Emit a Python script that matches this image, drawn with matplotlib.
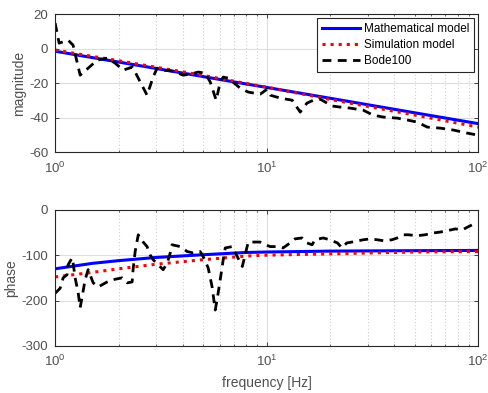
import matplotlib
matplotlib.use("Agg")
import matplotlib.pyplot as plt
import numpy as np
from matplotlib.ticker import LogLocator, NullFormatter

plt.rcParams['font.family'] = ['Liberation Sans', 'DejaVu Sans']
plt.rcParams['axes.unicode_minus'] = False

# ---- model curves ----
f_model = [1, 1.5, 2, 3, 5, 8, 10, 20, 50, 100]
mag_math = [-1.5, -5.2, -7.8, -11.5, -16.2, -20.5, -22.5, -28.8, -37.2, -43.5]
mag_sim = [-0.8, -4.5, -7.0, -10.8, -15.5, -20.2, -22.3, -29.5, -38.5, -45.5]
ph_math = [-130, -118, -112, -105, -99, -94, -93, -91, -90, -89.5]
ph_sim = [-148, -138, -130, -120, -110, -102, -100, -97, -93, -92]

# ---- Bode100 measurement (magnitude) ----
f_meas_mag = [1.0, 1.044, 1.152, 1.216, 1.313, 1.58, 1.762, 1.921, 2.097, 2.312,
              2.389, 2.72, 2.905, 3.035, 3.24, 3.61, 4.03, 4.35, 4.74, 5.12,
              5.41, 5.77, 6.03, 6.23, 6.58, 7.49, 8.18, 9.31, 10.05, 10.4,
              11.6, 13.2, 14.4, 15.5, 16.6, 17.9, 19.3, 20.4, 22.3, 24.8,
              28.6, 31.9, 35.6, 41.4, 46.2, 51.5, 57.4, 66.1, 76.2, 88.8, 98.9]
mag_meas = [14.8, 3.2, 4.9, 2.0, -15.4, -6.7, -5.5, -8.4, -12.5, -10.7,
            -13.6, -27.0, -16.5, -11.3, -12.5, -13.0, -15.4, -14.8, -13.6, -14.2,
            -19.4, -29.9, -19.4, -16.5, -17.1, -22.9, -25.2, -26.4, -23.5, -27.0,
            -28.7, -29.9, -36.8, -31.6, -29.9, -29.3, -31.6, -33.3, -33.9, -34.5,
            -35.7, -38.6, -39.7, -40.3, -41.4, -42.6, -45.5, -46.1, -47.2, -49.0, -50.1]

# ---- Bode100 measurement (phase) ----
f_meas_ph = [1.0, 1.056, 1.091, 1.139, 1.152, 1.203, 1.216, 1.243, 1.285, 1.313,
             1.341, 1.386, 1.432, 1.513, 1.597, 1.762, 1.881, 2.073, 2.192, 2.312,
             2.336, 2.389, 2.471, 2.606, 2.72, 2.81, 2.905, 3.07, 3.24, 3.39,
             3.50, 3.57, 3.90, 4.21, 4.49, 4.85, 5.01, 5.29, 5.52, 5.71,
             5.83, 6.03, 6.23, 6.37, 6.87, 7.26, 7.67, 7.91, 8.18, 8.54,
             9.31, 9.84, 10.4, 11.3, 11.95, 12.9, 13.6, 14.7, 15.5, 16.4,
             16.9, 18.5, 19.9, 21.6, 22.7, 23.9, 25.3, 28.6, 30.9, 33.3,
             35.6, 39.1, 41.4, 44.4, 46.7, 51.5, 56.1, 61.2, 66.1, 71.3,
             77.9, 84.2, 89.9, 93.6]
ph_meas = [-184, -173, -150, -143, -121, -106, -117, -150, -183, -216,
           -192, -154, -132, -161, -170, -159, -154, -150, -161, -159,
           -132, -92, -55, -71, -81, -99, -110, -121, -132, -117,
           -95, -77, -81, -92, -95, -92, -103, -128, -170, -221,
           -198, -154, -110, -84, -81, -103, -125, -99, -71, -71,
           -71, -77, -81, -81, -84, -73, -64, -62, -73, -77,
           -66, -62, -66, -73, -84, -73, -71, -66, -64, -66,
           -68, -66, -62, -55, -55, -57, -55, -51, -49, -46,
           -42, -44, -37, -33]

labels = ["Mathematical model", "Simulation model", "Bode100"]

fig = plt.figure(figsize=(4.88, 3.93), dpi=100)
ax1 = fig.add_axes([0.113, 0.613, 0.867, 0.351])
ax2 = fig.add_axes([0.113, 0.120, 0.867, 0.346])

axcol = '#262626'
txtcol = '#505050'

def style(ax):
    ax.set_xscale('log')
    ax.set_xlim(1, 100)
    ax.grid(True, which='major', color='#dedede', linestyle='-', linewidth=0.8)
    ax.grid(True, which='minor', axis='x', color='#cfcfcf', linestyle=(0, (1, 2)), linewidth=0.8)
    ax.set_axisbelow(True)
    ax.xaxis.set_minor_locator(LogLocator(base=10, subs=np.arange(2, 10)))
    ax.xaxis.set_minor_formatter(NullFormatter())
    ax.tick_params(which='both', direction='in', top=True, right=True,
                   labelsize=9.5, colors=axcol, labelcolor=txtcol)
    ax.tick_params(which='major', length=3, width=0.6)
    ax.tick_params(which='minor', length=1.5, width=0.5)
    ax.tick_params(axis='x', pad=6)
    ax.tick_params(axis='y', pad=5)
    for s in ax.spines.values():
        s.set_color(axcol)
        s.set_linewidth(0.8)

ax1.plot(f_model, mag_math, color='#0000ff', lw=2.2, label=labels[0])
ax1.plot(f_model, mag_sim, color='#ff0000', lw=2.2, linestyle=':', label=labels[1])
ax1.plot(f_meas_mag, mag_meas, color='black', lw=2.0, linestyle=(0, (3.2, 2.3)), label=labels[2])
style(ax1)
ax1.set_ylim(-60, 20)
ax1.set_yticks([-60, -40, -20, 0, 20])
ax1.set_ylabel('magnitude', fontsize=10, color=txtcol, labelpad=2)
leg = ax1.legend(loc='upper right', fontsize=8.5, frameon=True, fancybox=False,
                 edgecolor='#262626', framealpha=1, handlelength=3.3,
                 borderaxespad=0.35, labelspacing=0.35, handletextpad=0.3,
                 borderpad=0.4)
leg.get_frame().set_linewidth(0.8)

ax2.plot(f_model, ph_math, color='#0000ff', lw=2.2)
ax2.plot(f_model, ph_sim, color='#ff0000', lw=2.2, linestyle=':')
ax2.plot(f_meas_ph, ph_meas, color='black', lw=2.0, linestyle=(0, (3.2, 2.3)))
style(ax2)
ax2.set_ylim(-300, 0)
ax2.set_yticks([-300, -200, -100, 0])
ax2.set_ylabel('phase', fontsize=10, color=txtcol, labelpad=2)
ax2.set_xlabel('frequency [Hz]', fontsize=10, color=txtcol, labelpad=5)

fig.savefig('out.png', dpi=100)
